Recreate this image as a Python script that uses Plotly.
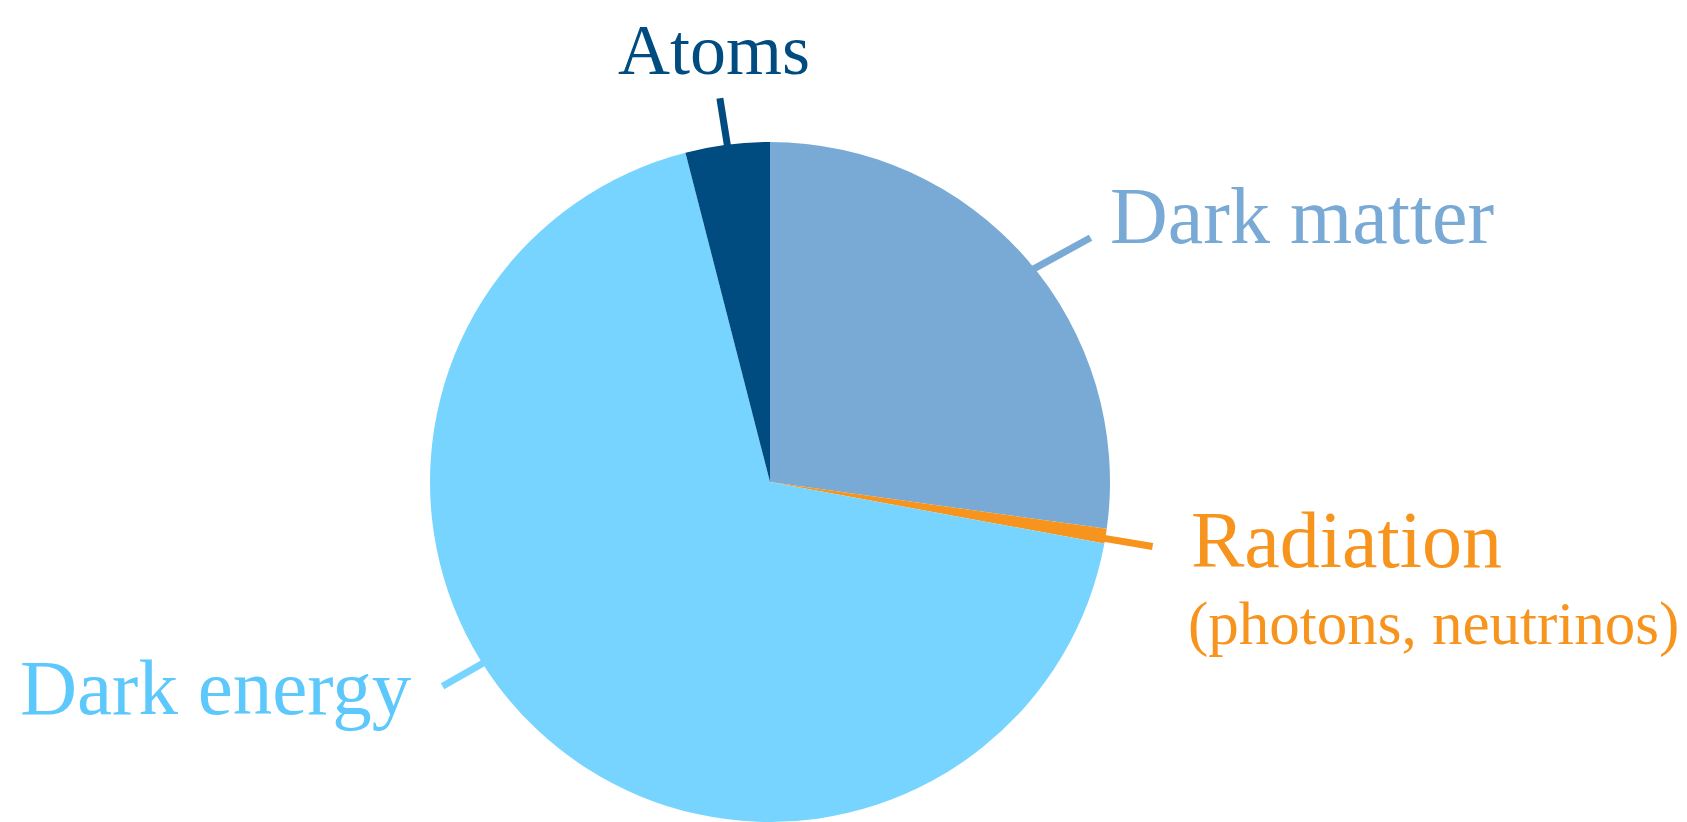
import math
import plotly.graph_objects as go

# ---- data ----
labels = ["Dark matter", "Radiation", "Dark energy", "Atoms"]
values = [27.2, 0.7, 68.1, 4.0]
slice_colors = ["#79aad5", "#f7941d", "#77d4ff", "#004b7f"]
text_colors = ["#79aad5", "#f7941d", "#5cc8fb", "#004b7f"]
label_texts = ["Dark matter", "Radiation", "Dark energy", "Atoms"]
sub_text = "(photons, neutrinos)"

# ---- layout (positions given in screen px; page body has an 8px margin) ----
OFF = 8
W, H = 1687 - OFF, 822 - OFF
CX, CY, R = 770, 482, 340  # pie centre / radius in screen px
FONT = "Liberation Serif"

def to_paper(x, y):
    return (x - OFF) / W, 1 - (y - OFF) / H

dom_x = [(CX - R - OFF) / W, (CX + R - OFF) / W]
dom_y = [max(0.0, 1 - (CY + R - OFF) / H), 1 - (CY - R - OFF) / H]

fig = go.Figure(go.Pie(
    labels=labels, values=values, sort=False, direction="clockwise",
    rotation=0, textinfo="none", hoverinfo="label+percent",
    marker=dict(colors=slice_colors, line=dict(width=0)),
    domain=dict(x=dom_x, y=dom_y), showlegend=False,
))

# leader lines: start on the rim at slice mid-angle + offset, run outward
total = sum(values)
cum = 0
mids = []
for v in values:
    a0 = cum / total * 360
    cum += v
    a1 = cum / total * 360
    mids.append((a0 + a1) / 2)

leader = {  # (start-angle offset, direction tilt, length px)
    "Dark matter": (2.0, 11.0, 64),
    "Radiation": (0.4, 0.0, 48),
    "Dark energy": (14.7, 2.7, 46),
    "Atoms": (0.0, -2.0, 47),
}

shapes = []
for lab, m, c in zip(labels, mids, slice_colors):
    off, tilt, length = leader[lab]
    a = math.radians(m + off)
    d = math.radians(m + off + tilt)
    x0 = CX + (R - 4) * math.sin(a)
    y0 = CY - (R - 4) * math.cos(a)
    x1 = CX + R * math.sin(a) + length * math.sin(d)
    y1 = CY - R * math.cos(a) - length * math.cos(d)
    p0, p1 = to_paper(x0, y0), to_paper(x1, y1)
    shapes.append(dict(type="line", xref="paper", yref="paper",
                       x0=p0[0], y0=p0[1], x1=p1[0], y1=p1[1],
                       line=dict(color=c, width=7)))

# label anchors (screen px): (x, y, xanchor, yanchor, size)
label_pos = {
    "Atoms": (714, OFF, "center", "top", 72),
    "Dark matter": (1108, 216, "left", "middle", 80),
    "Radiation": (1189, 540, "left", "middle", 80),
    "Dark energy": (414, 687, "right", "middle", 79),
}
annotations = []
for lab, txt, col in zip(labels, label_texts, text_colors):
    x, y, xa, ya, s = label_pos[lab]
    px, py = to_paper(x, y)
    annotations.append(dict(text=txt, x=px, y=py, xref="paper", yref="paper",
                            xanchor=xa, yanchor=ya, showarrow=False,
                            font=dict(family=FONT, size=s, color=col)))
px, py = to_paper(1186, 624)
annotations.append(dict(text=sub_text, x=px, y=py, xref="paper", yref="paper",
                        xanchor="left", yanchor="middle", showarrow=False,
                        font=dict(family=FONT, size=61, color=text_colors[1])))

fig.update_layout(
    width=W, height=H, margin=dict(l=0, r=0, t=0, b=0),
    paper_bgcolor="white", plot_bgcolor="white",
    shapes=shapes, annotations=annotations,
)
fig.write_html("out.html")
